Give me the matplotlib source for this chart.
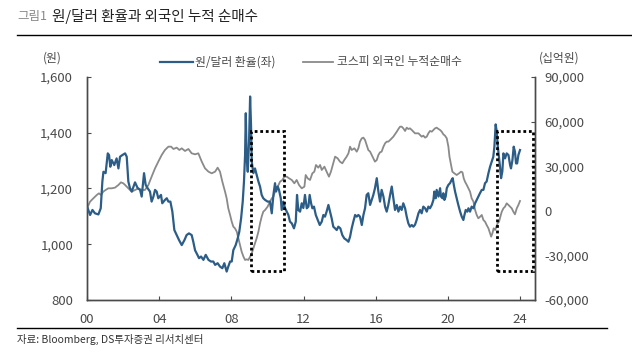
import matplotlib
matplotlib.use("Agg")
import matplotlib.pyplot as plt
from matplotlib.patches import Rectangle

plt.rcParams["font.family"] = ["Noto Sans CJK KR", "DejaVu Sans"]

BLUE = "#2c5d87"
GREY = "#8a8a8a"
INK = "#4a4a4a"

# 원/달러 환율 (decimal year, won)
krw_t = [2000.04, 2000.17, 2000.30, 2000.44, 2000.63, 2000.76, 2000.85, 2000.91, 2001.03, 2001.15,
         2001.22, 2001.29, 2001.37, 2001.51, 2001.64, 2001.74, 2001.83, 2001.96, 2002.11, 2002.20,
         2002.29, 2002.38, 2002.48, 2002.66, 2002.81, 2002.94, 2003.03, 2003.16, 2003.25, 2003.36,
         2003.49, 2003.58, 2003.68, 2003.77, 2003.86, 2003.95, 2004.10, 2004.17, 2004.32, 2004.42,
         2004.51, 2004.62, 2004.73, 2004.84, 2004.97, 2005.10, 2005.25, 2005.40, 2005.52, 2005.65,
         2005.80, 2005.89, 2005.99, 2006.08, 2006.21, 2006.32, 2006.45, 2006.58, 2006.73, 2006.87,
         2007.00, 2007.10, 2007.24, 2007.37, 2007.50, 2007.61, 2007.74, 2007.83, 2007.93, 2008.02,
         2008.11, 2008.24, 2008.35, 2008.44, 2008.54, 2008.63, 2008.70, 2008.76, 2008.80, 2008.85,
         2008.91, 2008.98, 2009.04, 2009.09, 2009.13, 2009.22, 2009.31, 2009.40, 2009.50, 2009.59,
         2009.68, 2009.77, 2009.87, 2010.01, 2010.14, 2010.24, 2010.33, 2010.42, 2010.48, 2010.57,
         2010.64, 2010.74, 2010.79, 2010.88, 2010.98, 2011.07, 2011.16, 2011.25, 2011.35, 2011.47,
         2011.57, 2011.64, 2011.71, 2011.81, 2011.90, 2011.99, 2012.08, 2012.18, 2012.27, 2012.34,
         2012.42, 2012.49, 2012.58, 2012.68, 2012.79, 2012.90, 2013.01, 2013.10, 2013.19, 2013.28,
         2013.38, 2013.47, 2013.56, 2013.65, 2013.75, 2013.84, 2013.93, 2014.04, 2014.15, 2014.26,
         2014.39, 2014.49, 2014.58, 2014.67, 2014.76, 2014.86, 2014.95, 2015.04, 2015.13, 2015.23,
         2015.32, 2015.41, 2015.50, 2015.59, 2015.69, 2015.78, 2015.87, 2015.96, 2016.06, 2016.15,
         2016.24, 2016.33, 2016.43, 2016.52, 2016.61, 2016.70, 2016.80, 2016.89, 2016.98, 2017.07,
         2017.17, 2017.26, 2017.35, 2017.44, 2017.53, 2017.63, 2017.72, 2017.81, 2017.90, 2018.00,
         2018.09, 2018.18, 2018.27, 2018.37, 2018.46, 2018.55, 2018.64, 2018.74, 2018.83, 2018.92,
         2019.01, 2019.11, 2019.20, 2019.25, 2019.33, 2019.38, 2019.48, 2019.57, 2019.62, 2019.70,
         2019.75, 2019.81, 2019.88, 2019.94, 2020.03, 2020.12, 2020.21, 2020.27, 2020.33, 2020.40,
         2020.49, 2020.58, 2020.68, 2020.77, 2020.86, 2020.92, 2020.99, 2021.08, 2021.14, 2021.23,
         2021.32, 2021.42, 2021.51, 2021.60, 2021.69, 2021.78, 2021.88, 2021.97, 2022.06, 2022.15,
         2022.25, 2022.34, 2022.43, 2022.52, 2022.58, 2022.62, 2022.65, 2022.71, 2022.76, 2022.84,
         2022.89, 2022.95, 2023.02, 2023.08, 2023.17, 2023.26, 2023.36, 2023.45, 2023.50, 2023.58,
         2023.65, 2023.72, 2023.78, 2023.84, 2023.91, 2024.00]
krw = [1129, 1105, 1123, 1111, 1107, 1129, 1225, 1260, 1255, 1326,
       1320, 1278, 1302, 1284, 1308, 1272, 1314, 1320, 1326, 1314,
       1225, 1201, 1189, 1222, 1201, 1195, 1171, 1255, 1213, 1201,
       1189, 1153, 1171, 1195, 1189, 1165, 1177, 1147, 1159, 1165,
       1153, 1153, 1117, 1051, 1033, 1015, 997, 1015, 1033, 1039,
       1033, 1009, 978, 967, 950, 956, 944, 962, 944, 938,
       938, 926, 932, 920, 914, 932, 902, 920, 938, 938,
       979, 997, 1021, 1045, 1093, 1153, 1225, 1320, 1470, 1308,
       1260, 1368, 1530, 1428, 1296, 1255, 1272, 1249, 1225, 1207,
       1177, 1165, 1159, 1153, 1153, 1111, 1177, 1219, 1189, 1207,
       1195, 1165, 1123, 1153, 1129, 1117, 1105, 1081, 1075, 1057,
       1081, 1177, 1123, 1117, 1147, 1130, 1177, 1129, 1135, 1177,
       1147, 1129, 1135, 1105, 1087, 1069, 1081, 1105, 1099, 1117,
       1141, 1117, 1093, 1063, 1057, 1051, 1063, 1057, 1033, 1021,
       1015, 1009, 1027, 1057, 1081, 1105, 1099, 1105, 1099, 1069,
       1105, 1129, 1177, 1183, 1141, 1159, 1177, 1201, 1237, 1189,
       1153, 1195, 1171, 1135, 1117, 1141, 1177, 1207, 1165, 1123,
       1141, 1117, 1135, 1123, 1147, 1129, 1099, 1075, 1063, 1069,
       1063, 1070, 1087, 1111, 1123, 1111, 1135, 1129, 1117, 1135,
       1129, 1141, 1159, 1189, 1165, 1195, 1171, 1201, 1171, 1165,
       1183, 1159, 1171, 1201, 1213, 1219, 1231, 1237, 1213, 1189,
       1165, 1141, 1117, 1099, 1087, 1105, 1123, 1117, 1129, 1117,
       1135, 1129, 1147, 1159, 1171, 1183, 1195, 1195, 1219, 1225,
       1255, 1278, 1296, 1314, 1350, 1398, 1430, 1404, 1356, 1308,
       1278, 1237, 1261, 1326, 1308, 1326, 1320, 1284, 1272, 1302,
       1350, 1332, 1290, 1290, 1320, 1338]

# 코스피 외국인 누적순매수 (decimal year, 십억원)
flow_t = [2000.04, 2000.17, 2000.35, 2000.54, 2000.66, 2000.78, 2000.90, 2001.03, 2001.18, 2001.37,
          2001.55, 2001.74, 2001.88, 2002.01, 2002.11, 2002.29, 2002.48, 2002.66, 2002.85, 2003.03,
          2003.21, 2003.40, 2003.58, 2003.77, 2003.95, 2004.14, 2004.32, 2004.51, 2004.66, 2004.79,
          2004.97, 2005.12, 2005.25, 2005.43, 2005.62, 2005.80, 2005.99, 2006.17, 2006.36, 2006.54,
          2006.73, 2006.91, 2007.10, 2007.24, 2007.37, 2007.50, 2007.65, 2007.74, 2007.83, 2007.93,
          2008.02, 2008.11, 2008.20, 2008.30, 2008.39, 2008.48, 2008.57, 2008.67, 2008.76, 2008.85,
          2008.94, 2009.04, 2009.13, 2009.22, 2009.31, 2009.40, 2009.50, 2009.59, 2009.68, 2009.77,
          2009.87, 2010.01, 2010.14, 2010.24, 2010.33, 2010.42, 2010.57, 2010.70, 2010.83, 2010.94,
          2011.07, 2011.20, 2011.35, 2011.49, 2011.62, 2011.75, 2011.90, 2012.05, 2012.12, 2012.23,
          2012.36, 2012.49, 2012.60, 2012.69, 2012.82, 2012.92, 2013.01, 2013.16, 2013.28, 2013.41,
          2013.52, 2013.65, 2013.75, 2013.89, 2014.02, 2014.15, 2014.26, 2014.39, 2014.49, 2014.58,
          2014.67, 2014.82, 2014.95, 2015.04, 2015.13, 2015.23, 2015.32, 2015.41, 2015.50, 2015.59,
          2015.69, 2015.78, 2015.87, 2015.96, 2016.06, 2016.15, 2016.24, 2016.33, 2016.43, 2016.52,
          2016.61, 2016.70, 2016.80, 2016.89, 2016.98, 2017.07, 2017.17, 2017.26, 2017.35, 2017.44,
          2017.53, 2017.63, 2017.72, 2017.81, 2017.90, 2018.00, 2018.09, 2018.18, 2018.37, 2018.55,
          2018.64, 2018.74, 2018.83, 2018.92, 2019.01, 2019.11, 2019.20, 2019.29, 2019.38, 2019.48,
          2019.57, 2019.66, 2019.75, 2019.84, 2019.94, 2020.03, 2020.09, 2020.16, 2020.25, 2020.36,
          2020.49, 2020.62, 2020.73, 2020.81, 2020.88, 2020.95, 2021.05, 2021.14, 2021.23, 2021.32,
          2021.42, 2021.51, 2021.60, 2021.69, 2021.79, 2021.88, 2021.97, 2022.06, 2022.15, 2022.25,
          2022.34, 2022.40, 2022.47, 2022.54, 2022.62, 2022.69, 2022.76, 2022.84, 2022.91, 2022.99,
          2023.08, 2023.17, 2023.26, 2023.36, 2023.45, 2023.54, 2023.63, 2023.72, 2023.82, 2023.91,
          2024.00]
flow = [2790, 6150, 8390, 10630, 11750, 10630, 12880, 14000, 15120, 15120,
        15570, 17360, 19150, 18480, 17360, 15120, 12880, 14000, 15120, 14000,
        14000, 17360, 22950, 28570, 33050, 37540, 40900, 43140, 43140, 41570,
        42470, 40900, 42020, 40230, 41570, 38660, 37990, 38660, 33050, 28570,
        26330, 25200, 26330, 29000, 26330, 19600, 12870, 8390, 1665, -2820,
        -7300, -10670, -11790, -14030, -18520, -23000, -27480, -30840, -33080, -32630,
        -33080, -30840, -28600, -25240, -21880, -18520, -14030, -8420, -3940, -580,
        540, 2790, 6150, 8390, 9510, 12870, 16240, 19600, 20720, 22960,
        22960, 21840, 20720, 18480, 20720, 17360, 15120, 16240, 24080, 21840,
        20720, 25200, 26330, 30810, 29000, 30810, 27450, 29690, 26330, 22960,
        26330, 31930, 36420, 35300, 33050, 31930, 34170, 36420, 38660, 43140,
        40900, 42020, 39780, 42020, 46510, 48750, 49200, 47630, 44260, 40900,
        39780, 37540, 35300, 33050, 34170, 37540, 39330, 39780, 43140, 45380,
        46510, 46510, 47620, 48750, 49870, 51440, 53230, 55020, 56590, 56590,
        55470, 53680, 55920, 55020, 55470, 54350, 53230, 52110, 52110, 49870,
        50540, 49200, 49870, 52110, 53680, 53230, 54350, 55470, 55920, 55020,
        54350, 53230, 51440, 50540, 48750, 43140, 36420, 31930, 26330, 25200,
        24080, 25200, 26330, 25880, 21840, 19600, 17360, 15120, 12870, 8390,
        6150, 540, -2820, -5060, -3940, -2820, -6180, -7300, -9550, -11790,
        -15150, -17400, -15150, -11790, -12910, -10670, -8420, -7300, -3940, -580,
        1665, 2790, 5030, 3910, 2790, 1665, -580, -2370, 1665, 3910,
        6600]

left_ticks = [800, 1000, 1200, 1400, 1600]
right_ticks = [-60000, -30000, 0, 30000, 60000, 90000]
year_ticks = [2000, 2004, 2008, 2012, 2016, 2020, 2024]
year_labels = ["00", "04", "08", "12", "16", "20", "24"]

# highlighted periods (years, won range)
boxes = [(2009.09, 2010.92), (2022.74, 2024.74)]
box_low, box_high = 905, 1405

fig = plt.figure(figsize=(6.32, 3.52), dpi=100)
ax = fig.add_axes([0.1377, 0.1477, 0.7088, 0.6336])
ax2 = ax.twinx()

ax2.plot(flow_t, flow, color=GREY, lw=1.3, zorder=2)
ax.plot(krw_t, krw, color=BLUE, lw=1.6, zorder=3)
ax.set_zorder(ax2.get_zorder() + 1)
ax.patch.set_visible(False)

for x0, x1 in boxes:
    ax.add_patch(Rectangle((x0, box_low), x1 - x0, box_high - box_low, fill=False,
                           ls=(0, (1, 1)), lw=2, ec="black", zorder=4))

ax.set_xlim(2000, 2024.83)
ax.set_ylim(800, 1600)
ax2.set_ylim(-60000, 90000)
ax.set_xticks(year_ticks)
ax.set_xticklabels(year_labels)
ax.set_yticks(left_ticks)
ax.set_yticklabels([f"{v:,}" for v in left_ticks])
ax2.set_yticks(right_ticks)
ax2.set_yticklabels([f"{v:,}" for v in right_ticks])

for a in (ax, ax2):
    a.spines["top"].set_visible(False)
    for s in a.spines.values():
        s.set_color(INK)
        s.set_linewidth(1.0)
    a.tick_params(direction="in", length=3, width=0.8, color=INK,
                  labelcolor=INK, labelsize=9.5)
ax.tick_params(axis="y", pad=10)
ax.tick_params(axis="x", pad=9)
ax2.tick_params(axis="y", pad=7)

fig.text(0.068, 0.835, "(원)", fontsize=8.5, color=INK, va="center")
fig.text(0.852, 0.835, "(십억원)", fontsize=8.5, color=INK, va="center")

# legend drawn by hand to match the layout
fig.add_artist(plt.Line2D([0.253, 0.305], [0.825, 0.825], color=BLUE, lw=1.6))
fig.text(0.309, 0.825, "원/달러 환율(좌)", fontsize=8.5, color=INK, va="center")
fig.add_artist(plt.Line2D([0.479, 0.527], [0.825, 0.825], color=GREY, lw=1.3))
fig.text(0.533, 0.825, "코스피 외국인 누적순매수", fontsize=8.5, color=INK, va="center")

fig.text(0.027, 0.953, "그림1", fontsize=9, color="#888888", va="center")
fig.text(0.082, 0.953, "원/달러 환율과 외국인 누적 순매수", fontsize=10.5, color="#222222", va="center")
fig.add_artist(plt.Line2D([0.027, 1.0], [0.901, 0.901], color="black", lw=1.0))
fig.add_artist(plt.Line2D([0.027, 0.96], [0.068, 0.068], color="black", lw=1.0))
fig.text(0.027, 0.035, "자료: Bloomberg, DS투자증권 리서치센터", fontsize=7.5, color="#333333", va="center")

fig.savefig("out.png", dpi=100)
